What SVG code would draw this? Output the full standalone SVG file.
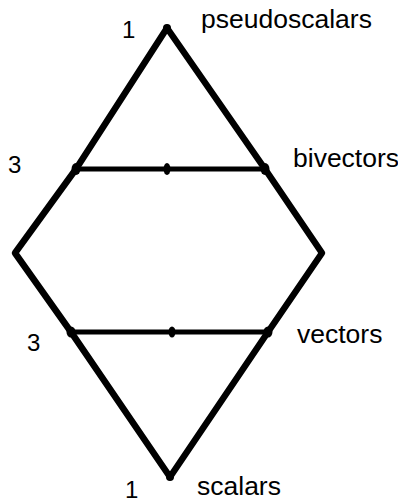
<svg xmlns="http://www.w3.org/2000/svg" width="398" height="504" viewBox="0 0 398 504">
<style>
.edge{fill:none;stroke:#000;stroke-width:6.5;stroke-linejoin:round;stroke-linecap:round}
.rung{fill:none;stroke:#000;stroke-width:5;stroke-linecap:butt}
.dot{fill:#000}
.lbl{font-family:"Liberation Sans",Arial,sans-serif;font-size:26.5px;fill:#000}
.num{font-family:"Liberation Sans",Arial,sans-serif;font-size:24px;fill:#000}
</style>
<rect width="398" height="504" fill="#fff"/>
<g id="connectors">
<polyline class="edge" points="167,28 76,169 15,253 71,332 170,477 268,332 322,253 265,169 167,28"/>
<line class="rung" x1="76" y1="169" x2="265" y2="169"/>
<line class="rung" x1="71" y1="332" x2="268" y2="332"/>
</g>
<g id="pseudoscalars">
<circle class="dot" cx="167" cy="28" r="4"/>
<text class="num" x="122" y="38">1</text>
<text class="lbl" x="201" y="28">pseudoscalars</text>
</g>
<g id="bivectors">
<ellipse class="dot" cx="76" cy="169" rx="4.5" ry="6"/>
<ellipse class="dot" cx="167" cy="169" rx="3.5" ry="6"/>
<ellipse class="dot" cx="265" cy="169" rx="4.5" ry="6"/>
<text class="num" x="8" y="173">3</text>
<text class="lbl" x="293" y="167">bivectors</text>
</g>
<g id="vectors">
<ellipse class="dot" cx="71" cy="332" rx="4.5" ry="5.5"/>
<ellipse class="dot" cx="172" cy="332" rx="3.5" ry="5.5"/>
<ellipse class="dot" cx="268" cy="332" rx="4.5" ry="5.5"/>
<text class="num" x="27" y="351">3</text>
<text class="lbl" x="297" y="343">vectors</text>
</g>
<g id="scalars">
<circle class="dot" cx="170" cy="477" r="4"/>
<text class="num" x="125" y="498">1</text>
<text class="lbl" x="197" y="495">scalars</text>
</g>
</svg>
